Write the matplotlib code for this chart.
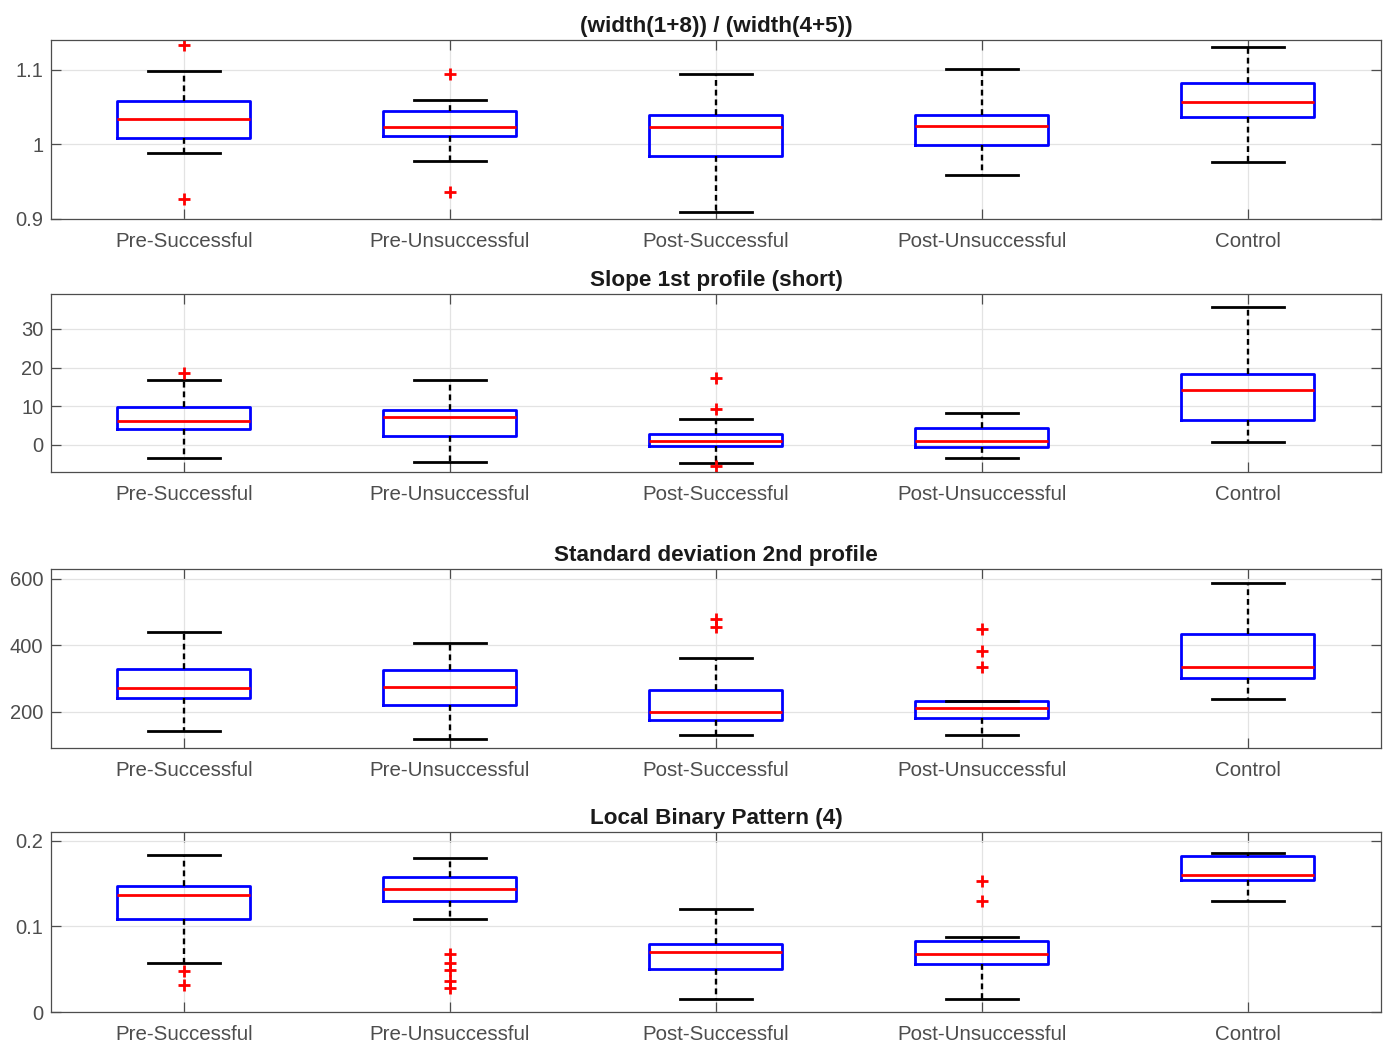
import matplotlib
matplotlib.use("Agg")
import matplotlib.pyplot as plt

plt.rcParams['font.family'] = ['Liberation Sans', 'DejaVu Sans']
plt.rcParams['lines.scale_dashes'] = False

groups = ["Pre-Successful", "Pre-Unsuccessful", "Post-Successful",
          "Post-Unsuccessful", "Control"]

# Panel 1: (width(1+8)) / (width(4+5))
ratio_title = "(width(1+8)) / (width(4+5))"
ratio_whislo = [0.988, 0.978, 0.909, 0.959, 0.976]
ratio_q1 = [1.0085, 1.011, 0.985, 0.999, 1.037]
ratio_med = [1.0335, 1.024, 1.023, 1.025, 1.057]
ratio_q3 = [1.058, 1.045, 1.039, 1.040, 1.082]
ratio_whishi = [1.098, 1.0595, 1.094, 1.101, 1.131]
ratio_fliers = [[1.133, 0.927], [1.095, 0.9365], [], [], []]
ratio_ylim = (0.9, 1.14)
ratio_yticks = [0.9, 1.0, 1.1]
ratio_yticklabels = ["0.9", "1", "1.1"]

# Panel 2: slope of the first (short) profile
slope_title = "Slope 1st profile (short)"
slope_whislo = [-3.5, -4.45, -4.7, -3.4, 0.85]
slope_q1 = [4.2, 2.2, -0.4, -0.5, 6.4]
slope_med = [6.3, 7.1, 1.1, 0.93, 14.3]
slope_q3 = [9.8, 9.0, 2.8, 4.5, 18.2]
slope_whishi = [16.8, 16.8, 6.6, 8.2, 35.6]
slope_fliers = [[18.46], [], [17.4, 9.2, -5.4], [], []]
slope_ylim = (-7, 39)
slope_yticks = [0, 10, 20, 30]
slope_yticklabels = ["0", "10", "20", "30"]

# Panel 3: standard deviation of the second profile
std_title = "Standard deviation 2nd profile"
std_whislo = [140, 118, 130, 130, 239]
std_q1 = [242, 219, 175, 179, 302]
std_med = [271, 273, 200, 211, 335]
std_q3 = [327, 325, 265, 232, 433]
std_whishi = [440, 406, 361, 233, 588]
std_fliers = [[], [], [478, 455], [448, 382, 334], []]
std_ylim = (90, 630)
std_yticks = [200, 400, 600]
std_yticklabels = ["200", "400", "600"]

# Panel 4: local binary pattern feature
lbp_title = "Local Binary Pattern (4)"
lbp_whislo = [0.0568, 0.109, 0.0152, 0.0156, 0.130]
lbp_q1 = [0.1085, 0.129, 0.0498, 0.0557, 0.1537]
lbp_med = [0.137, 0.1435, 0.0697, 0.0673, 0.160]
lbp_q3 = [0.1475, 0.157, 0.0794, 0.0825, 0.1825]
lbp_whishi = [0.1837, 0.180, 0.1198, 0.088, 0.1852]
lbp_fliers = [[0.0475, 0.032], [0.068, 0.057, 0.049, 0.036, 0.028],
              [], [0.1525, 0.1295], []]
lbp_ylim = (0, 0.21)
lbp_yticks = [0, 0.1, 0.2]
lbp_yticklabels = ["0", "0.1", "0.2"]

panels = [
    (ratio_title, ratio_whislo, ratio_q1, ratio_med, ratio_q3, ratio_whishi,
     ratio_fliers, ratio_ylim, ratio_yticks, ratio_yticklabels),
    (slope_title, slope_whislo, slope_q1, slope_med, slope_q3, slope_whishi,
     slope_fliers, slope_ylim, slope_yticks, slope_yticklabels),
    (std_title, std_whislo, std_q1, std_med, std_q3, std_whishi,
     std_fliers, std_ylim, std_yticks, std_yticklabels),
    (lbp_title, lbp_whislo, lbp_q1, lbp_med, lbp_q3, lbp_whishi,
     lbp_fliers, lbp_ylim, lbp_yticks, lbp_yticklabels),
]

W, H = 1387, 1044
fig = plt.figure(figsize=(W / 100, H / 100), dpi=100)

# axes extents in pixels: (top, bottom)
extents = [(40, 219), (294, 472), (569, 748), (832, 1012)]
left_px, right_px = 51, 1381

positions = list(range(1, len(groups) + 1))
axis_color = "0.3"
tick_label_color = "0.3"

for (title, wlo, q1, med, q3, whi, fl, ylim, yt, ytl), (top, bot) in zip(panels, extents):
    ax = fig.add_axes([left_px / W, (H - bot) / H,
                       (right_px - left_px) / W, (bot - top) / H])
    stats = []
    for i in range(len(groups)):
        stats.append(dict(whislo=wlo[i], q1=q1[i], med=med[i], q3=q3[i],
                          whishi=whi[i], fliers=fl[i], label=groups[i]))
    ax.bxp(stats, positions=positions, widths=0.5, capwidths=0.27,
           showfliers=True,
           boxprops=dict(color="#0000ff", linewidth=2.0),
           medianprops=dict(color="#ff0000", linewidth=2.0),
           whiskerprops=dict(color="black", linewidth=1.7,
                             linestyle=(0, (4.2, 2.8))),
           capprops=dict(color="black", linewidth=2.0),
           flierprops=dict(marker="+", markeredgecolor="#ff0000",
                           markersize=8, markeredgewidth=2.0,
                           linestyle="none"))
    ax.set_xlim(0.5, len(groups) + 0.5)
    ax.set_ylim(*ylim)
    ax.set_yticks(yt)
    ax.set_yticklabels(ytl)
    ax.set_xticks(positions)
    ax.set_xticklabels(groups)
    ax.grid(True, color="#e3e3e3", linewidth=0.9)
    ax.set_axisbelow(True)
    for s in ax.spines.values():
        s.set_color(axis_color)
        s.set_linewidth(0.9)
    ax.tick_params(axis="both", direction="in", top=True, right=True,
                   length=7, width=0.9, color=axis_color,
                   labelcolor=tick_label_color)
    ax.tick_params(axis="x", labelsize=14.8, pad=9.5)
    ax.tick_params(axis="y", labelsize=14.5, pad=5.5)
    ax.set_title(title, fontsize=16.2, fontweight="bold", color="#1a1a1a",
                 pad=6)

fig.savefig("out.png", dpi=100)
